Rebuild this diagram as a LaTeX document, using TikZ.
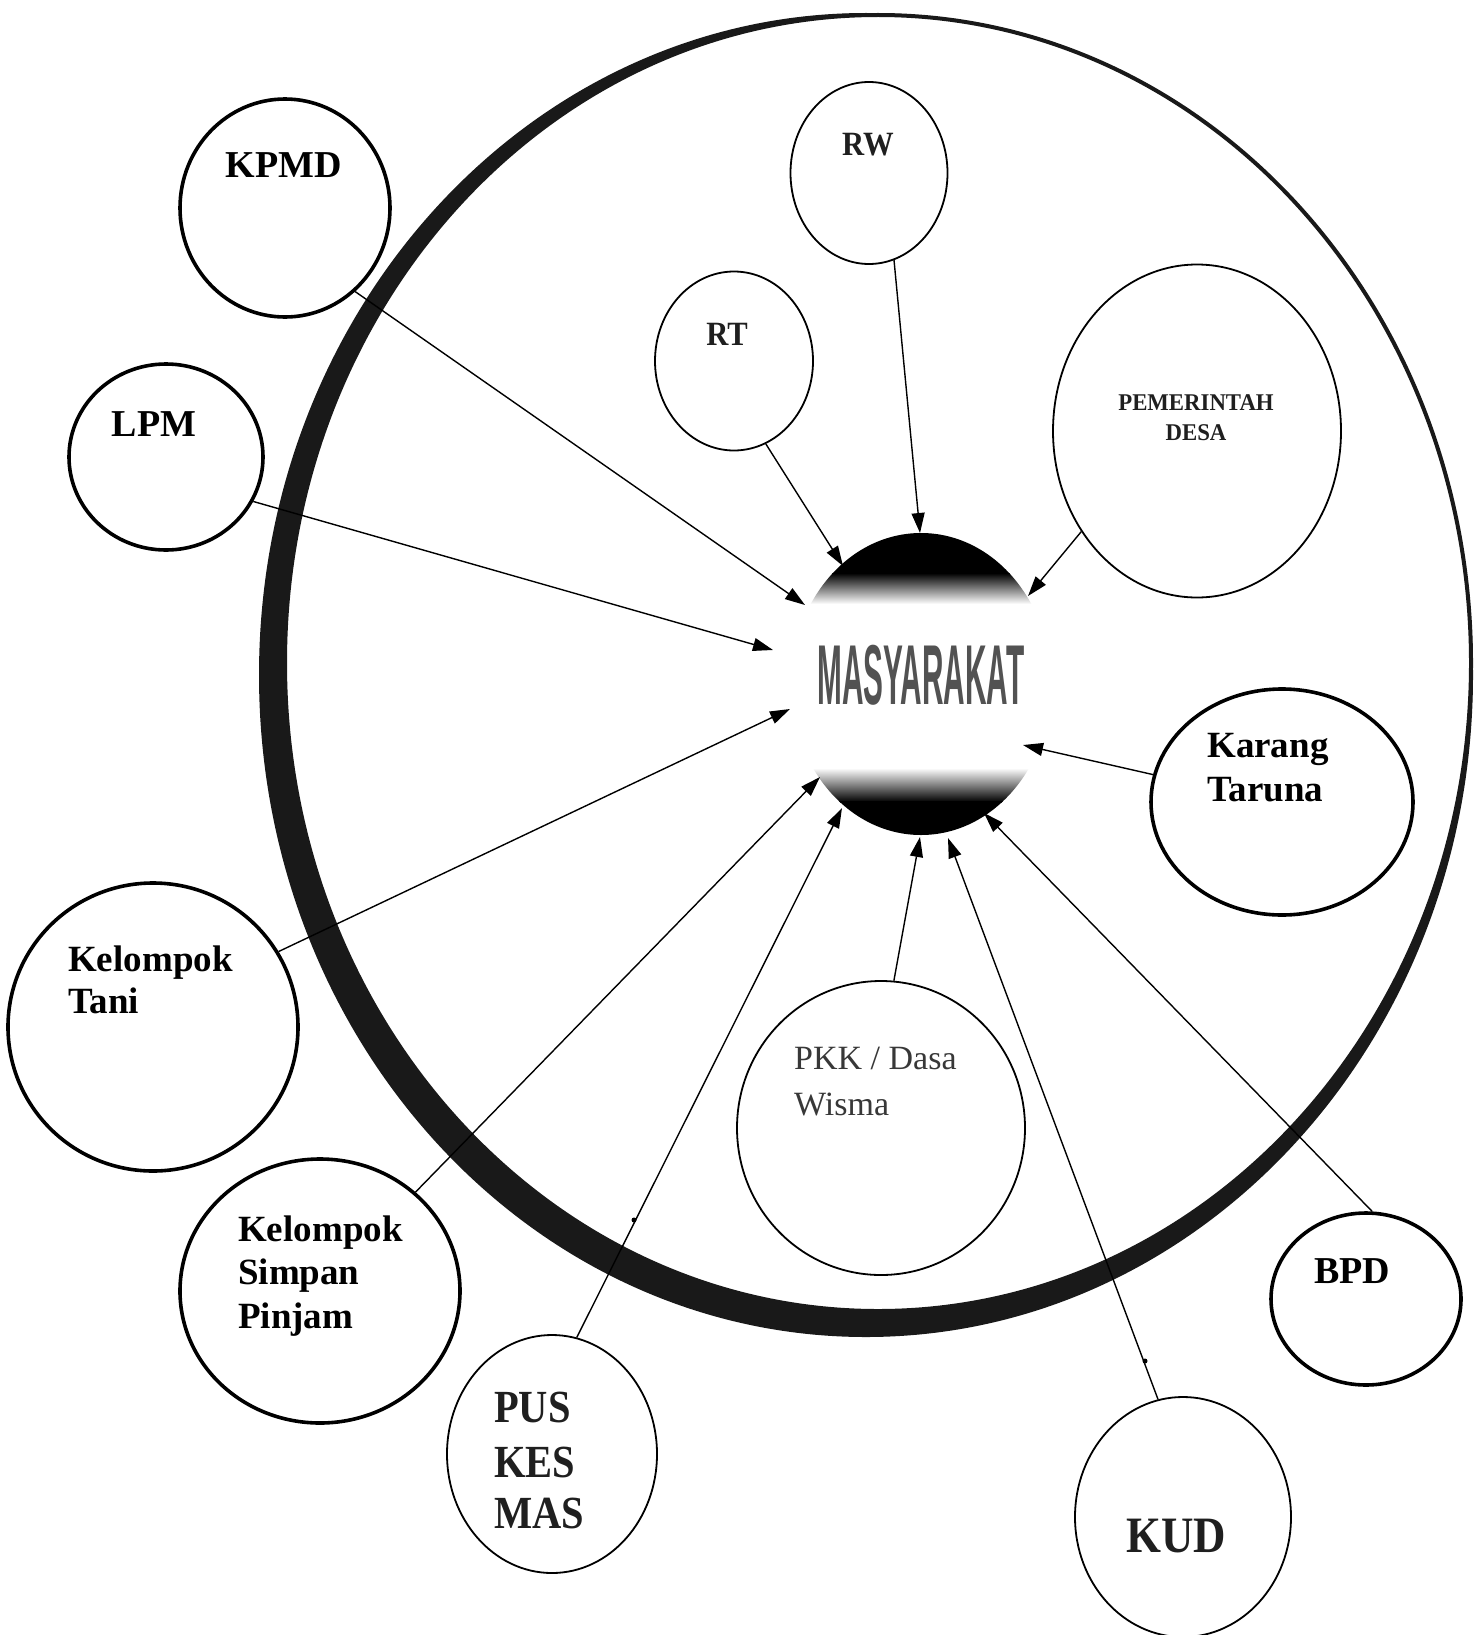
\documentclass[tikz,border=0pt]{standalone}
\usepackage{fontspec}
\setmainfont{Liberation Serif}
\newfontfamily\massans{Liberation Sans}
\usetikzlibrary{shapes.geometric,arrows.meta}
\begin{document}
\begin{tikzpicture}[x=1pt,y=-1pt,
  circ/.style={draw=black, ellipse, inner sep=0pt, line width=#1},
  thickcirc/.style={circ=3.6pt},
  thincirc/.style={circ=1.8pt},
  lab/.style={inner sep=0pt, font=\bfseries\fontsize{38}{38}\selectfont},
  conn/.style={line width=1.4pt, -{Triangle[length=20pt,width=13pt]}},
]
\useasboundingbox (0,0) rectangle (1482,1635);
\fill[white] (0,0) rectangle (1482,1635);

% big ring (thick on left and bottom, thin on top and right)
\fill[black!90] (866,675) ellipse [x radius=607, y radius=662];
\draw[black!90, line width=4pt, fill=white] (878,663) ellipse [x radius=593, y radius=648];

% MASYARAKAT sphere
\begin{scope}
\clip (921,684) ellipse [x radius=130, y radius=151];
\fill[black] (780,520) rectangle (1060,574);
\shade[top color=black, bottom color=white] (780,573) rectangle (1060,604);
\shade[top color=white, bottom color=black] (780,768) rectangle (1060,802);
\fill[black] (780,801) rectangle (1060,850);
\end{scope}
\node[inner sep=0pt, anchor=base, text=black!68, font=\massans\bfseries\fontsize{85}{85}\selectfont] (mas) at (921,704) {\scalebox{0.35}[1]{MASYARAKAT}};

% circles
\node[thickcirc, minimum width=210pt, minimum height=218pt] (kpmd) at (285,208) {};
\node[thickcirc, minimum width=194pt, minimum height=186pt] (lpm) at (166,457) {};
\node[thickcirc, minimum width=290pt, minimum height=288pt] (tani) at (153,1027) {};
\node[thickcirc, minimum width=280pt, minimum height=264pt] (ksp) at (320,1291) {};
\node[thincirc, minimum width=210pt, minimum height=238pt] (pusk) at (552,1454) {};
\node[thincirc, minimum width=216pt, minimum height=240pt] (kud) at (1183,1517) {};
\node[thickcirc, minimum width=190pt, minimum height=172pt] (bpd) at (1366,1299) {};
\node[thickcirc, minimum width=262pt, minimum height=226pt] (kt) at (1282,802) {};
\node[thincirc, minimum width=288pt, minimum height=294pt] (pkk) at (881,1128) {};
\node[thincirc, minimum width=288pt, minimum height=333pt] (pd) at (1197,431) {};
\node[thincirc, minimum width=157pt, minimum height=182pt] (rw) at (869,173) {};
\node[thincirc, minimum width=158pt, minimum height=179pt] (rt) at (734,361) {};

% arrow tips
\coordinate (tKPMD) at (805,605);
\coordinate (tLPM) at (773,650);
\coordinate (tTani) at (790,709);
\coordinate (tKSP) at (820,777);
\coordinate (tPusk) at (842,808);
\coordinate (tPKK) at (920,837);
\coordinate (tKUD) at (948,838);
\coordinate (tBPD) at (984,813);
\coordinate (tKT) at (1023,745);
\coordinate (tPD) at (1028,596);
\coordinate (tRW) at (920,533);
\coordinate (tRT) at (843,566);

% connectors
\draw[conn] (kpmd.-50) -- (tKPMD);
\draw[conn] (lpm.-27) -- (tLPM);
\draw[conn] (tani.31) -- (tTani);
\draw[conn] (ksp.46) -- (tKSP);
\draw[conn] (pusk.78) -- (tPusk);
\draw[conn] (pkk.85) -- (tPKK);
\draw[conn] (kud.102) -- (tKUD);
\draw[conn] (bpd.86) -- (tBPD);
\draw[conn] (kt.168) -- (tKT);
\draw[conn] (rt.-69) -- (tRT);
\draw[conn] (rw.-74) -- (tRW);
\draw[conn] (pd.221) -- (tPD);

% small dots on lines
\fill (634,1220) circle [radius=2.5];
\fill (1145,1361) circle [radius=2.5];

% labels
\node[lab, anchor=base] (lkpmd) at (284,177) {KPMD};
\node[lab, anchor=base] (llpm) at (154,436) {LPM};
\node[lab, font=\bfseries\fontsize{37}{37}\selectfont, anchor=base west] (ltani1) at (68,971) {Kelompok};
\node[lab, font=\bfseries\fontsize{37}{37}\selectfont, anchor=base west] (ltani2) at (68,1013) {Tani};
\node[lab, font=\bfseries\fontsize{37}{37}\selectfont, anchor=base west] (lksp1) at (238,1241) {Kelompok};
\node[lab, font=\bfseries\fontsize{37}{37}\selectfont, anchor=base west] (lksp2) at (238,1284) {Simpan};
\node[lab, font=\bfseries\fontsize{37}{37}\selectfont, anchor=base west] (lksp3) at (238,1328) {Pinjam};
\node[lab, font=\bfseries\fontsize{46}{46}\selectfont, text=black!88, anchor=base west] (lpusk1) at (494,1422) {\scalebox{0.88}[1]{PUS}};
\node[lab, font=\bfseries\fontsize{46}{46}\selectfont, text=black!88, anchor=base west] (lpusk2) at (494,1477) {\scalebox{0.88}[1]{KES}};
\node[lab, font=\bfseries\fontsize{46}{46}\selectfont, text=black!88, anchor=base west] (lpusk3) at (494,1528) {\scalebox{0.88}[1]{MAS}};
\node[lab, font=\bfseries\fontsize{51}{51}\selectfont, text=black!88, anchor=base] (lkud) at (1176,1552) {\scalebox{0.88}[1]{KUD}};
\node[lab, anchor=base] (lbpd) at (1352,1283) {BPD};
\node[lab, font=\bfseries\fontsize{37}{37}\selectfont, anchor=base west] (lkt1) at (1207,757) {Karang};
\node[lab, font=\bfseries\fontsize{37}{37}\selectfont, anchor=base west] (lkt2) at (1207,801) {Taruna};
\node[lab, font=\fontsize{34}{34}\selectfont, text=black!78, anchor=base west] (lpkk1) at (794,1069) {PKK / Dasa};
\node[lab, font=\fontsize{34}{34}\selectfont, text=black!78, anchor=base west] (lpkk2) at (794,1115) {Wisma};
\node[lab, font=\bfseries\fontsize{34}{34}\selectfont, text=black!88, anchor=base] (lrw) at (868,156) {\scalebox{0.9}[1]{RW}};
\node[lab, font=\bfseries\fontsize{34}{34}\selectfont, text=black!88, anchor=base] (lrt) at (727,345) {\scalebox{0.9}[1]{RT}};
\node[lab, font=\bfseries\fontsize{24}{24}\selectfont, text=black!88, anchor=base] (lpd1) at (1196,410) {\scalebox{0.95}[1]{PEMERINTAH}};
\node[lab, font=\bfseries\fontsize{24}{24}\selectfont, text=black!88, anchor=base] (lpd2) at (1196,440) {\scalebox{0.95}[1]{DESA}};
\end{tikzpicture}
\end{document}
